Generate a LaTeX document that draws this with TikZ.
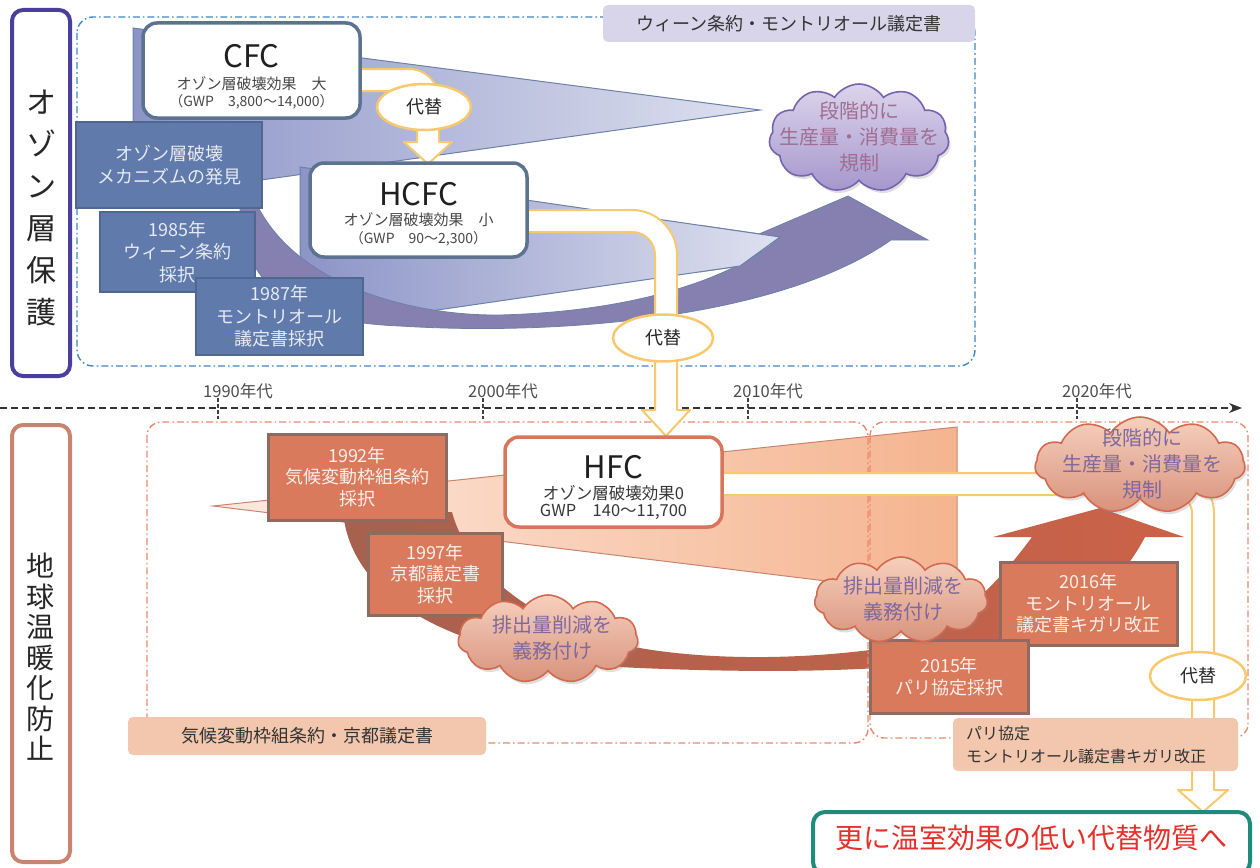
\documentclass[tikz,border=0pt]{standalone}
\usepackage{fontspec}
\setmainfont{Noto Sans CJK JP}
\usetikzlibrary{shapes.symbols,shapes.geometric,shadows,arrows.meta}

\definecolor{ozframe}{HTML}{4A3F9F}
\definecolor{gwframe}{HTML}{C98470}
\definecolor{dashblue}{HTML}{3F86C6}
\definecolor{dashorange}{HTML}{E98A6E}
\definecolor{steelfill}{HTML}{5F7AAB}
\definecolor{steeledge}{HTML}{506790}
\definecolor{steeltext}{HTML}{E6EAF3}
\definecolor{slateedge}{HTML}{5B7391}
\definecolor{wedgeL}{HTML}{8C94C7}
\definecolor{wedgeR}{HTML}{DEE1EF}
\definecolor{wedgeedge}{HTML}{6D80A7}
\definecolor{bandpurple}{HTML}{8580AF}
\definecolor{cloudtopA}{HTML}{DCD4EC}
\definecolor{cloudbotA}{HTML}{A597CD}
\definecolor{cloudedgeA}{HTML}{7764AE}
\definecolor{cloudtextA}{HTML}{A06E92}
\definecolor{peachL}{HTML}{FDEAE0}
\definecolor{peachR}{HTML}{F5B48F}
\definecolor{brownL}{HTML}{A6614F}
\definecolor{brownR}{HTML}{CC6248}
\definecolor{salmonfill}{HTML}{D97A5D}
\definecolor{salmonedge}{HTML}{8E6B61}
\definecolor{salmontext}{HTML}{FCEEE8}
\definecolor{cloudtopB}{HTML}{F6D0BD}
\definecolor{cloudbotB}{HTML}{D8927C}
\definecolor{cloudedgeB}{HTML}{D36A50}
\definecolor{cloudtextB}{HTML}{7E689E}
\definecolor{hfcedge}{HTML}{D8765C}
\definecolor{swapedge}{HTML}{F8C96C}
\definecolor{labelA}{HTML}{D8D4E9}
\definecolor{labelB}{HTML}{F2C7AD}
\definecolor{finaledge}{HTML}{1F8B7B}
\definecolor{finaltext}{HTML}{E7302B}
\definecolor{darktext}{HTML}{333333}

\tikzset{
  sidelabel/.style={draw, line width=4pt, rounded corners=11pt, fill=white},
  dashframe/.style={line width=1.4pt, rounded corners=16pt, dash pattern=on 7pt off 3pt on 1.6pt off 3pt},
  gasbox/.style={draw=slateedge, fill=white, line width=3.5pt, rounded corners=14pt},
  gastitle/.style={font=\fontsize{31}{31}\selectfont, text=black!88},
  gasnote/.style={font=\fontsize{15}{15}\selectfont, text=black!72},
  hfcnote/.style={font=\fontsize{16.5}{16.5}\selectfont, text=black!78},
  bluebox/.style={draw=steeledge, fill=steelfill, line width=2pt, text=steeltext, align=center, font=\fontsize{18}{22.5}\selectfont},
  salmonbox/.style={draw=salmonedge, fill=salmonfill, line width=3pt, text=salmontext, align=center, font=\fontsize{18}{21.5}\selectfont},
  swapband/.style={draw=swapedge, fill=white, line width=2pt, line join=round},
  swapnote/.style={ellipse, draw=swapedge, fill=white, line width=2.5pt, font=\fontsize{18}{18}\selectfont, text=black!85, minimum width=94, minimum height=46},
  cloudshape/.style={cloud, cloud puffs=11, cloud puff arc=115, cloud ignores aspect, line width=1.6pt,
                     drop shadow={opacity=0.25, shadow xshift=2pt, shadow yshift=-3pt}},
  violetcloud/.style={cloudshape, draw=cloudedgeA, top color=cloudtopA, bottom color=cloudbotA},
  peachcloud/.style={cloudshape, draw=cloudedgeB, top color=cloudtopB, bottom color=cloudbotB},
  cloudtext/.style={align=center, font=\fontsize{20}{26}\selectfont},
  tagbox/.style={rounded corners=5pt, font=\fontsize{18}{18}\selectfont, text=darktext},
  decade/.style={font=\fontsize{16.5}{16.5}\selectfont, text=black!70},
}

\begin{document}
\begin{tikzpicture}[x=1pt, y=-1pt, every node/.style={inner sep=0pt, outer sep=0pt}]
\useasboundingbox (0,0) rectangle (1260,867);

% ---------- side labels ----------
\node[sidelabel, draw=ozframe, minimum width=58, minimum height=366] (ozside) at (41,193) {};
\node[align=center, font=\fontsize{30}{42}\selectfont, text=black!85] (oztext) at (41,208) {オ\\ゾ\\ン\\層\\保\\護};
\node[sidelabel, draw=gwframe, minimum width=58, minimum height=437] (gwside) at (41,643.5) {};
\node[align=center, font=\fontsize{28}{30.5}\selectfont, text=black!85] (gwtext) at (41,657) {地\\球\\温\\暖\\化\\防\\止};

% ---------- ozone layer: wedges and arrow band ----------
\path[draw=wedgeedge, line width=1pt, left color=wedgeL, right color=wedgeR]
  (133,28) -- (760,110) -- (133,198) -- cycle;
\path[draw=wedgeedge, line width=1pt, left color=wedgeL, right color=wedgeR]
  (300,167) -- (780,237) -- (740,266) -- (300,330) -- cycle;
\path[draw=wedgeedge, line width=0.8pt, fill=bandpurple]
  (240,205) .. controls (240,290) and (300,322) .. (400,326)
  .. controls (560,336) and (780,318) .. (891,240)
  -- (928,240) -- (848,196) -- (745,240) -- (775,242)
  .. controls (720,285) and (620,312) .. (500,315)
  .. controls (420,316) and (300,290) .. (257,205) -- cycle;
\begin{scope}
  \clip (700,220) rectangle (790,280);
  \path[draw=wedgeedge, line width=1pt, left color=wedgeL, right color=wedgeR]
    (300,167) -- (780,237) -- (740,266) -- (300,330) -- cycle;
\end{scope}

\draw[dashframe, draw=dashblue] (77,17) rectangle (975,366);
\node[tagbox, fill=labelA, minimum width=372, minimum height=37] (treatyA) at (789,23.5) {ウィーン条約・モントリオール議定書};

% ---------- time axis ----------
\coordinate (axisstart) at (0,408);
\coordinate (axisend) at (1242,408);
\draw[line width=1.6pt, draw=black!80, dash pattern=on 7pt off 4pt, -{Stealth[length=13pt,width=10pt]}] (axisstart) -- (axisend);
\foreach \x/\lab in {218/1990年代, 483/2000年代, 748/2010年代, 1077/2020年代}{
  \draw[line width=1.4pt, draw=black!75, dash pattern=on 4pt off 2pt] (\x,398) -- (\x,419);
  \node[decade] (dec\x) at (\x+20,391) {\lab};
}

% ---------- global warming: wedge and arrow band ----------
\path[draw=gwframe, line width=1pt, left color=peachL, right color=peachR]
  (213,506) -- (957,427) -- (957,597) -- cycle;
\path[left color=brownL, right color=brownR]
  (343,512) .. controls (352,610) and (480,662) .. (640,668)
  .. controls (780,674) and (930,672) .. (1010,650)
  .. controls (1070,630) and (1120,585) .. (1145,537)
  -- (1184,537) -- (1100,508) -- (993,537) -- (1032,537)
  .. controls (1000,580) and (950,640) .. (870,650)
  .. controls (790,660) and (700,660) .. (629,646)
  .. controls (550,630) and (470,580) .. (452,512) -- cycle;

\draw[dashframe, draw=dashorange, rounded corners=14pt] (147,422) rectangle (868,743);
\draw[dashframe, draw=dashorange, rounded corners=14pt] (870,422) rectangle (1248,738);

% ---------- substitution arrows ----------
\path[swapband]
  (358,69) -- (409,69) .. controls (425.6,69) and (439,82.4) .. (439,99)
  -- (439,142) -- (452,142) -- (428,164) -- (404,142) -- (417,142)
  -- (417,99) .. controls (417,94.6) and (413.4,91) .. (409,91) -- (358,91) -- cycle;
\path[swapband]
  (525,210) -- (632,210) .. controls (656.8,210) and (677,230.2) .. (677,255)
  -- (677,410) -- (690,410) -- (666,436) -- (642,410) -- (655,410)
  -- (655,255) .. controls (655,242.3) and (644.7,232) .. (632,232) -- (525,232) -- cycle;
\path[swapband]
  (720,473) -- (1174,473) .. controls (1196.1,473) and (1214,490.9) .. (1214,513)
  -- (1214,790) -- (1228,790) -- (1203,812) -- (1178,790) -- (1192,790)
  -- (1192,513) .. controls (1192,503.1) and (1183.9,495) .. (1174,495) -- (720,495) -- cycle;

% ---------- substance boxes ----------
\node[gasbox, minimum width=217, minimum height=95] (cfc) at (251.5,70.5) {};
\node[gastitle] (cfctitle) at (251.5,56) {CFC};
\node[gasnote] (cfcodp) at (251.5,84) {オゾン層破壊効果　大};
\node[gasnote, font=\fontsize{14}{14}\selectfont] (cfcgwp) at (251.5,102) {（GWP　3,800～14,000）};

\node[gasbox, minimum width=217, minimum height=94] (hcfc) at (418.5,210) {};
\node[gastitle] (hcfctitle) at (418.5,194) {HCFC};
\node[gasnote] (hcfcodp) at (418.5,220) {オゾン層破壊効果　小};
\node[gasnote, font=\fontsize{14}{14}\selectfont] (hcfcgwp) at (418.5,239) {（GWP　90～2,300）};

\node[gasbox, draw=hfcedge, minimum width=217, minimum height=90] (hfc) at (613.5,482) {};
\node[gastitle] (hfctitle) at (613.5,467) {HFC};
\node[hfcnote] (hfcodp) at (613.5,493) {オゾン層破壊効果0};
\node[hfcnote] (hfcgwp) at (613.5,512) {GWP　140～11,700};

% ---------- milestones ----------
\node[bluebox, minimum width=186, minimum height=86] (disc) at (169,165) {オゾン層破壊\\メカニズムの発見};
\node[bluebox, minimum width=155, minimum height=80] (vienna) at (177.5,252) {1985年\\ウィーン条約\\採択};
\node[bluebox, minimum width=167, minimum height=77] (montreal) at (279.5,316.5) {1987年\\モントリオール\\議定書採択};

\node[salmonbox, minimum width=178, minimum height=86] (unfccc) at (357,477) {1992年\\気候変動枠組条約\\採択};
\node[salmonbox, minimum width=134, minimum height=82] (kyoto) at (435,574) {1997年\\京都議定書\\採択};
\node[salmonbox, minimum width=177, minimum height=83] (kigali) at (1088.5,603.5) {2016年\\モントリオール\\議定書キガリ改正};
\node[salmonbox, minimum width=158, minimum height=73] (paris) at (949,676.5) {2015年\\パリ協定採択};

% ---------- clouds ----------
\node[violetcloud, minimum width=180, minimum height=108] (phaseA) at (859,138) {};
\node[cloudtext, text=cloudtextA] (phaseAtext) at (859,137) {段階的に\\生産量・消費量を\\規制};

\node[peachcloud, minimum width=210, minimum height=96] (phaseB) at (1140,465) {};
\node[cloudtext, text=cloudtextB] (phaseBtext) at (1142,464) {段階的に\\生産量・消費量を\\規制};

\node[peachcloud, minimum width=180, minimum height=88] (dutyA) at (548,639) {};
\node[cloudtext, text=cloudtextB] (dutyAtext) at (552,638) {排出量削減を\\義務付け};

\node[peachcloud, minimum width=173, minimum height=86] (dutyB) at (901,600) {};
\node[cloudtext, text=cloudtextB] (dutyBtext) at (903,599) {排出量削減を\\義務付け};

% ---------- substitution notes ----------
\node[swapnote] (swapA) at (424,107) {代替};
\node[swapnote, minimum width=100, minimum height=47] (swapB) at (663,338) {代替};
\node[swapnote, minimum width=96, minimum height=48] (swapC) at (1198,676) {代替};

% ---------- treaty tags ----------
\node[tagbox, fill=labelB, minimum width=358, minimum height=38] (treatyB) at (307,736) {気候変動枠組条約・京都議定書};
\node[tagbox, fill=labelB, minimum width=285, minimum height=53] (treatyC) at (1095.5,744.5) {};
\node[anchor=west, align=left, font=\fontsize{16}{23}\selectfont, text=darktext] (treatyCtext) at (966,745) {パリ協定\\モントリオール議定書キガリ改正};

% ---------- outcome ----------
\node[draw=finaledge, fill=white, line width=4pt, rounded corners=12pt, minimum width=437, minimum height=62] (outcome) at (1031.5,843) {};
\node[font=\fontsize{28}{28}\selectfont, text=finaltext] (outcometext) at (1031.5,838) {更に温室効果の低い代替物質へ};

\end{tikzpicture}
\end{document}
